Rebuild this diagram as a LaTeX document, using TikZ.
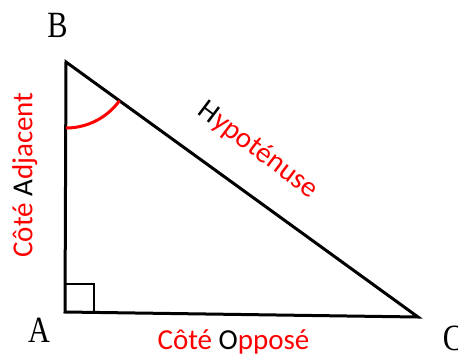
\documentclass[tikz,border=0pt]{standalone}
\usepackage{fontspec}
\setmainfont{Carlito}
\newfontfamily\lettfont[FakeStretch=0.82]{Liberation Serif}
\begin{document}
\begin{tikzpicture}[x=1pt,y=-1pt,
  side/.style={line width=3pt, line join=miter},
  lett/.style={inner sep=0pt, font=\lettfont\fontsize{37}{40}\selectfont},
  lbl/.style={inner sep=0pt, text=red, font=\fontsize{29}{32}\selectfont}]
\useasboundingbox (0,0) rectangle (458,354);
\coordinate (B) at (66,62);
\coordinate (A) at (65,312);
\coordinate (C) at (418,317);
\draw[side] (A) -- (B) -- (C) -- cycle;
\draw[line width=2.5pt] (A) rectangle ++(29,-28);
\draw[red, line width=3pt] ([shift={(90:66)}]B) arc[start angle=90, end angle=35.8, radius=66];
\node[lett] (lB) at (57.5,25.5) {B};
\node[lett] (lA) at (39,330.5) {A};
\node[lett] (lC) at (453,338) {C};
\node[lbl, rotate=90, anchor=base] (adj) at (32.3,175) {Côté \textcolor{black}{A}djacent};
\node[lbl, anchor=base] (opp) at (233.5,349) {Côté \textcolor{black}{O}pposé};
\node[lbl, rotate=-37] (hyp) at (258,150) {\textcolor{black}{H}ypoténuse};
\end{tikzpicture}
\end{document}
